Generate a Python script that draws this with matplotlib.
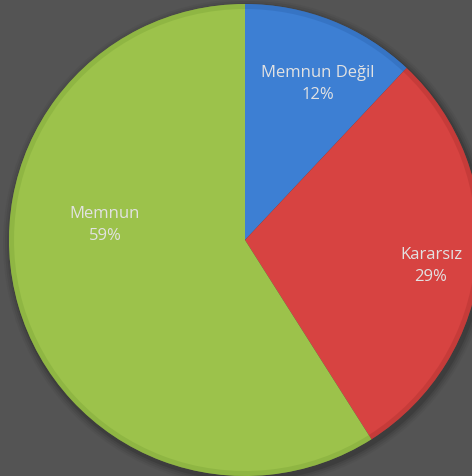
import matplotlib
matplotlib.use("Agg")
import matplotlib.pyplot as plt
import numpy as np
from matplotlib.patches import Circle

categories = ["Memnun Değil", "Kararsız", "Memnun"]
values = [12, 29, 59]
colors = ["#3d7fd3", "#d74341", "#9cc24b"]
edge_colors = ["#2f67b3", "#b33331", "#80a83a"]

W, H = 472, 476
fig = plt.figure(figsize=(W / 100, H / 100), dpi=100, facecolor="#545454")
ax = fig.add_axes([0, 0, 1, 1])
ax.set_facecolor("#545454")
cx, cy, R = 245, 240, 236

# soft shadow
for i, a in enumerate([0.10, 0.08, 0.06, 0.04]):
    ax.add_patch(Circle((2, -3), R + 2 + i * 2, color="black", alpha=a, zorder=0, lw=0))

wedges, _ = ax.pie(values, colors=colors, startangle=90, counterclock=False,
                   radius=R, center=(0, 0), frame=True,
                   wedgeprops=dict(linewidth=0, zorder=2))
rims, _ = ax.pie(values, colors=edge_colors, startangle=90, counterclock=False,
                 radius=R, center=(0, 0), frame=True,
                 wedgeprops=dict(width=5, linewidth=0, alpha=0.45, zorder=3))

ax.set_xlim(-cx, W - cx)
ax.set_ylim(-(H - cy), cy)
ax.set_aspect("equal")
ax.axis("off")

label_pos = [(73, 156), (186, -26), (-140, 15)]
for cat, v, (x, y) in zip(categories, values, label_pos):
    ax.text(x, y, f"{cat}\n{v}%", ha="center", va="center", color="#e2e2e2",
            fontsize=12, family="Open Sans", linespacing=1.45, zorder=5)

fig.savefig("out.png", dpi=100, facecolor=fig.get_facecolor())
